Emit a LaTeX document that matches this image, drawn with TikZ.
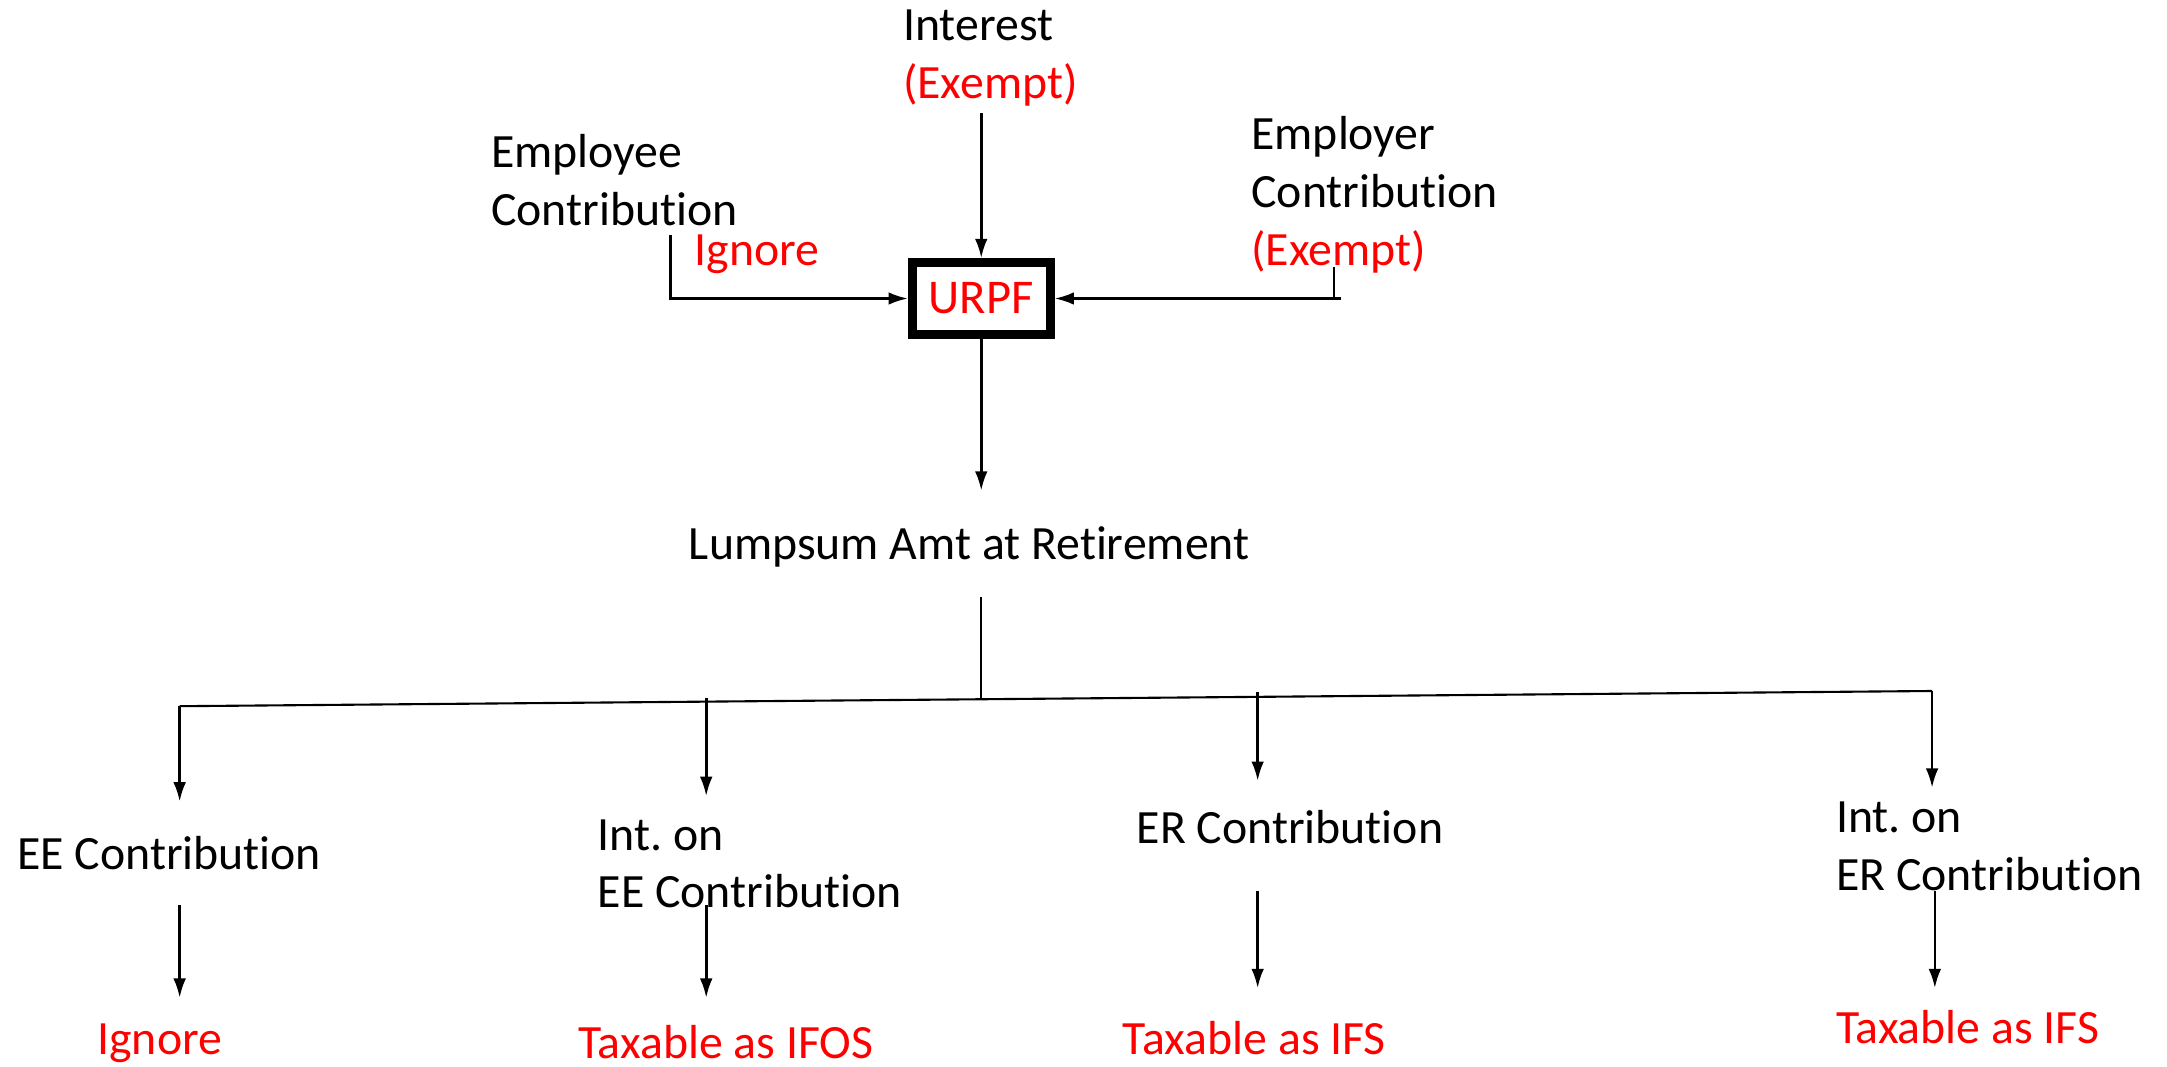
\documentclass[tikz,border=0pt]{standalone}
\usepackage{fontspec}
\setmainfont{Carlito}[Ligatures=NoCommon]
\usetikzlibrary{arrows.meta,positioning}

\begin{document}
\frenchspacing
\begin{tikzpicture}[x=0.01382cm, y=-0.01382cm,
  txt/.style={inner sep=0pt, anchor=base west, align=left, font=\fontsize{13.6}{16.5}\selectfont},
  tax/.style={txt, text=red},
  fund/.style={draw, line width=2.5pt, minimum width=1.38cm, minimum height=0.72cm, inner sep=0pt, text=red, font=\fontsize{13.8}{16.5}\selectfont},
  arr/.style={-{Latex[length=5.5pt,width=3.6pt]}, line width=0.75pt},
  ln/.style={line width=0.6pt}
]
\useasboundingbox (0,0) rectangle (1568,772);

% inputs to the fund
\node[txt] (int) at (653,29) {Interest};
\node[tax] (iex) at (653,71) {(Exempt)};
\node[txt] (eec) at (355,163) {Employee\\Contribution};
\node[tax] (eeig) at (502,192) {Ignore};
\node[txt] (erc) at (905,150) {Employer\\Contribution};
\node[tax] (erex) at (905,192) {(Exempt)};

\node[fund] (box) at (710,216) {URPF};
\node[txt] (ls) at (498,405) {Lumpsum Amt at Retirement};

% split at retirement
\node[txt] (ee) at (12,629) {EE Contribution};
\node[txt] (iee) at (432,657) {Int. on\\EE Contribution};
\node[txt] (er) at (822,610) {ER Contribution};
\node[txt] (ier) at (1328,644) {Int. on\\ER Contribution};

\node[tax] (r1) at (70,763) {Ignore};
\node[tax] (r2) at (418,766) {Taxable as IFOS};
\node[tax] (r3) at (812,763) {Taxable as IFS};
\node[tax] (r4) at (1328,755) {Taxable as IFS};

\coordinate (intin) at (710,82);
\coordinate (eeL) at (485,170);
\coordinate (erR) at (965,193);
\coordinate (erH) at (970,216);
\coordinate (lsin) at (710,355);
\coordinate (stem) at (710,432);
\coordinate (bm) at (710,505);
\coordinate (bl) at (130,511);
\coordinate (br) at (1398,500);
\coordinate (b2) at (511,505);
\coordinate (b3) at (910,501);
\coordinate (t1) at (130,580);
\coordinate (t2) at (511,576);
\coordinate (t3) at (910,565);
\coordinate (t4) at (1398,570);
\coordinate (s1) at (130,655);
\coordinate (s2) at (511,655);
\coordinate (s3) at (910,645);
\coordinate (s4) at (1400,645);
\coordinate (u1) at (130,722);
\coordinate (u2) at (511,722);
\coordinate (u3) at (910,715);
\coordinate (u4) at (1400,715);

\draw[arr] (intin) -- (box.north);
\draw[arr] (eeL) |- (box.west);
\draw[ln] (erR) -- (erR |- box.east);
\draw[arr] (erH) -- (box.east);
\draw[arr] (box.south) -- (lsin);

\draw[ln] (stem) -- (bm);
\draw[ln] (bl) -- (br);
\draw[arr] (bl) -- (t1);
\draw[arr] (b2) -- (t2);
\draw[arr] (b3) -- (t3);
\draw[arr] (br) -- (t4);

\draw[arr] (s1) -- (u1);
\draw[arr] (s2) -- (u2);
\draw[arr] (s3) -- (u3);
\draw[arr] (s4) -- (u4);
\end{tikzpicture}
\end{document}
